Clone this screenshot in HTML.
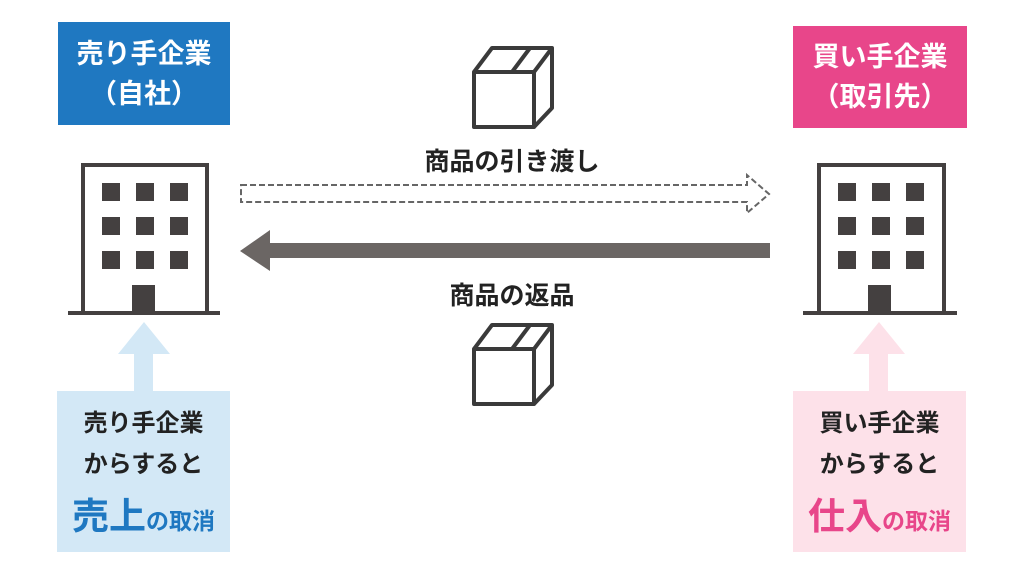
<!DOCTYPE html>
<html><head><meta charset="utf-8"><style>
body{margin:0;width:1024px;height:576px;background:#fff;position:relative;overflow:hidden;font-family:"Liberation Sans","Noto Sans CJK JP",sans-serif;font-weight:bold}
.t{position:absolute;text-align:center;white-space:nowrap}
</style></head><body>
<svg width="1024" height="576" style="position:absolute;left:0;top:0">
<rect x="58" y="22" width="172" height="103" fill="#1f78c1"/>
<rect x="793" y="26" width="174" height="102" fill="#e8468a"/>
<g fill="none" stroke="#444040" stroke-width="4">
<rect x="83" y="165" width="124" height="148"/>
<rect x="819" y="165" width="125" height="148"/>
</g>
<g stroke="#444040" stroke-width="4"><line x1="68" y1="313" x2="220" y2="313"/><line x1="803" y1="313" x2="957" y2="313"/></g>
<g fill="#444040">
<rect x="102" y="183" width="18" height="18"/><rect x="136" y="183" width="18" height="18"/><rect x="170" y="183" width="18" height="18"/>
<rect x="102" y="217" width="18" height="18"/><rect x="136" y="217" width="18" height="18"/><rect x="170" y="217" width="18" height="18"/>
<rect x="102" y="251" width="18" height="18"/><rect x="136" y="251" width="18" height="18"/><rect x="170" y="251" width="18" height="18"/>
<rect x="132" y="285" width="23" height="28"/>
<rect x="838" y="183" width="18" height="18"/><rect x="872" y="183" width="18" height="18"/><rect x="906" y="183" width="18" height="18"/>
<rect x="838" y="217" width="18" height="18"/><rect x="872" y="217" width="18" height="18"/><rect x="906" y="217" width="18" height="18"/>
<rect x="838" y="251" width="18" height="18"/><rect x="872" y="251" width="18" height="18"/><rect x="906" y="251" width="18" height="18"/>
<rect x="868" y="285" width="23" height="28"/>
</g>
<g fill="none" stroke="#3a3a3a" stroke-width="4" stroke-linejoin="round">
<path d="M474 72 L534 72 L534 127 L474 127 Z M474 72 L492 48 L552 48 L534 72 M552 48 L552 108 L534 127 M512 72 L530 48"/>
<path d="M474 349 L534 349 L534 404 L474 404 Z M474 349 L492 325 L552 325 L534 349 M552 325 L552 385 L534 404 M512 349 L530 325"/>
</g>
<path d="M241 185 L747 185 L747 175 L769 194 L747 213 L747 202 L241 202 Z" fill="none" stroke="#666" stroke-width="2" stroke-dasharray="6,3"/>
<path d="M770 243 L270 243 L270 230 L240 251 L270 271 L270 258 L770 258 Z" fill="#6b6664"/>
<path d="M144 322 L170 354 L153 354 L153 391 L134 391 L134 354 L118 354 Z" fill="#d3e8f6"/>
<rect x="57" y="391" width="173" height="161" fill="#d3e8f6"/>
<path d="M879 322 L905 354 L888 354 L888 391 L869 391 L869 354 L853 354 Z" fill="#fde1e9"/>
<rect x="793" y="391" width="173" height="161" fill="#fde1e9"/>
</svg>
<div class="t" style="left:58px;width:172px;top:34px;color:#fff;font-size:27px;line-height:40px">売り手企業<br>（自社）</div>
<div class="t" style="left:793px;width:174px;top:37px;color:#fff;font-size:27px;line-height:40px">買い手企業<br>（取引先）</div>
<div class="t" style="left:362px;width:300px;top:142px;font-size:25px;color:#222">商品の引き渡し</div>
<div class="t" style="left:362px;width:300px;top:276px;font-size:25px;color:#222">商品の返品</div>
<div class="t" style="left:57px;width:173px;top:403px;font-size:24px;line-height:41px;color:#222">売り手企業<br>からすると</div>
<div class="t" style="left:793px;width:173px;top:403px;font-size:24px;line-height:41px;color:#222">買い手企業<br>からすると</div>
<div class="t" style="left:57px;width:173px;top:486px;color:#1f78c1"><span style="font-size:37px">売上</span><span style="font-size:23px">の取消</span></div>
<div class="t" style="left:793px;width:173px;top:486px;color:#e8468a"><span style="font-size:37px">仕入</span><span style="font-size:23px">の取消</span></div>
</body></html>
